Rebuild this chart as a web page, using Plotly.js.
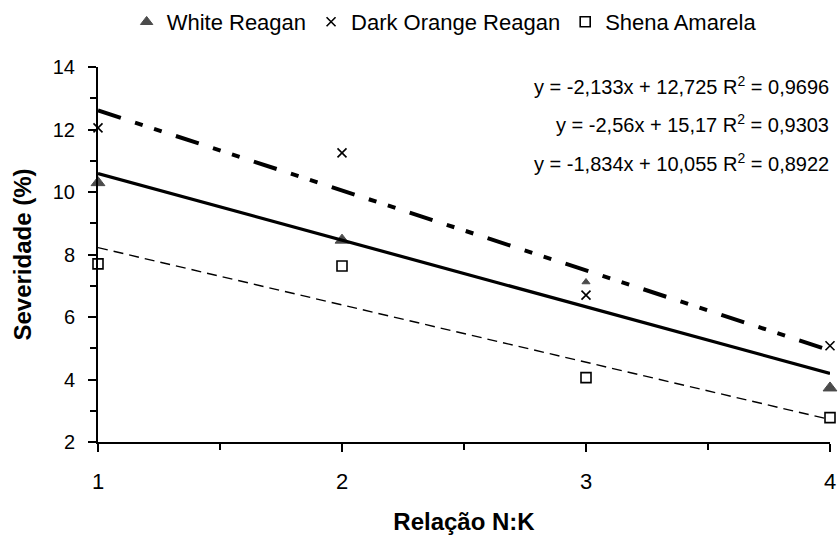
<!DOCTYPE html>
<html>
<head>
<meta charset="utf-8">
<script src="https://cdn.plot.ly/plotly-3.0.1.min.js"></script>
<style>html,body{margin:0;padding:0;background:#fff;}#chart{width:838px;height:536px;}</style>
</head>
<body>
<div id="chart"></div>
<script>
const relacao = [1, 2, 3, 4];
const whiteReagan = [10.3, 8.46, 7.12, 3.73];
const darkOrangeReagan = [12.05, 11.25, 6.7, 5.08];
const shenaAmarela = [7.7, 7.63, 4.06, 2.78];
const seriesNames = ["White Reagan", "Dark Orange Reagan", "Shena Amarela"];
const slopes = [-2.133, -2.56, -1.834];
const intercepts = [12.725, 15.17, 10.055];
const r2 = ["0,9696", "0,9303", "0,8922"];
const slopeText = ["-2,133", "-2,56", "-1,834"];
const interceptText = ["12,725", "15,17", "10,055"];
const xTickVals = [1, 2, 3, 4];
const yTickVals = [2, 4, 6, 8, 10, 12, 14];

const FONT = "Liberation Sans, Arial, sans-serif";
const trendX = [1, 4];
const trendStyles = [
  {color: "#000", width: 3.2, dash: "solid"},
  {color: "#000", width: 4, dash: "24px,15px,8px,12px,8px,15px"},
  {color: "#000", width: 1.4, dash: "10px,6px"}
];
const traces = [];
for (let i = 0; i < 3; i++) {
  traces.push({
    x: trendX,
    y: trendX.map(v => slopes[i] * v + intercepts[i]),
    mode: "lines", line: trendStyles[i], showlegend: false, hoverinfo: "skip"
  });
}
traces.push({x: relacao, y: whiteReagan, name: seriesNames[0], mode: "markers", cliponaxis: false,
  marker: {symbol: "triangle-up", size: [12, 12, 7, 12], color: "#000", line: {color: "#000", width: 1}}});
traces.push({x: relacao, y: darkOrangeReagan, name: seriesNames[1], mode: "markers", cliponaxis: false,
  marker: {symbol: "x-thin-open", size: 9, color: "#000", line: {color: "#000", width: 1.6}}});
traces.push({x: relacao, y: shenaAmarela, name: seriesNames[2], mode: "markers", cliponaxis: false,
  marker: {symbol: "square-open", size: 10, color: "#000", line: {color: "#000", width: 1.6}}});

const annPix = [86, 123, 162];
const annotations = [0, 1, 2].map(i => ({
  xref: "paper", yref: "paper", x: 1.002, y: 1 - (annPix[i] - 67) / 375, xanchor: "right", yanchor: "middle",
  showarrow: false,
  text: "y = " + slopeText[i] + "x + " + interceptText[i] + " R<sup>2</sup> = " + r2[i],
  font: {family: FONT, size: 20, color: "#000"}
}));

const layout = {
  width: 838, height: 536,
  margin: {l: 98, r: 8, t: 67, b: 94, autoexpand: false},
  paper_bgcolor: "#fff", plot_bgcolor: "#fff",
  font: {family: FONT, color: "#000"},
  showlegend: true,
  legend: {orientation: "h", xref: "container", yref: "container", x: 0.53, xanchor: "center",
    y: 1 - 22 / 536, yanchor: "middle",
    font: {family: FONT, size: 22, color: "#000"}, itemwidth: 30, tracegroupgap: 0},
  xaxis: {
    range: [1, 4], tickvals: xTickVals, ticktext: xTickVals.map(String), automargin: false,
    showgrid: false, zeroline: false, showline: true, linecolor: "#000", linewidth: 2,
    ticks: "outside", ticklen: 8, tickwidth: 2, tickcolor: "#000",
    minor: {dtick: 0.5, tick0: 1, ticks: "outside", ticklen: 6, tickwidth: 2, tickcolor: "#000", showgrid: false},
    tickfont: {family: FONT, size: 22, color: "#000"}, ticklabelstandoff: 11,
    title: {text: "<b>Relação N:K</b>", font: {family: FONT, size: 24, color: "#000"}, standoff: 20}
  },
  yaxis: {
    range: [2, 14], tickvals: yTickVals, automargin: false,
    showgrid: false, zeroline: false, showline: true, linecolor: "#000", linewidth: 2,
    ticks: "outside", ticklen: 8, tickwidth: 2, tickcolor: "#000",
    minor: {dtick: 1, tick0: 2, ticks: "outside", ticklen: 6, tickwidth: 2, tickcolor: "#000", showgrid: false},
    tickfont: {family: FONT, size: 20, color: "#000"}, ticklabelstandoff: 9,
    title: {text: "<b>Severidade (%)</b>", font: {family: FONT, size: 24, color: "#000"}, standoff: 14}
  },
  annotations: annotations
};
Plotly.newPlot("chart", traces, layout, {displayModeBar: false, staticPlot: true});
</script>
</body>
</html>
